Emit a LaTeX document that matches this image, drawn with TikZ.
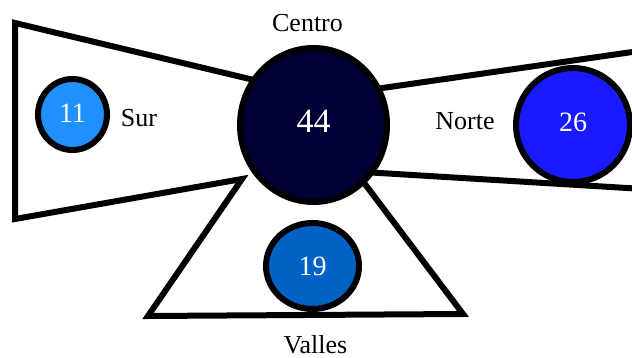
\documentclass[tikz,border=0pt]{standalone}
\usepackage{fontspec}
\setmainfont{Liberation Serif}
\usetikzlibrary{shapes.geometric}
\definecolor{cCentro}{RGB}{0,0,52}
\definecolor{cSur}{RGB}{32,144,255}
\definecolor{cNorte}{RGB}{26,26,255}
\definecolor{cValles}{RGB}{0,98,196}
\begin{document}
\begin{tikzpicture}[x=1pt,y=-1pt,
  blob/.style={ellipse,draw=black,line width=6pt,inner sep=0pt,text=white,font=\fontsize{28}{28}\selectfont},
  lbl/.style={font=\fontsize{26}{26}\selectfont,anchor=base,inner sep=0pt}]
\useasboundingbox (0,0) rectangle (632,358);
\begin{scope}
\clip (0,0) rectangle (632,358);
\draw[line width=6pt,fill=white,line join=miter]
  (15,23) -- (300,91) -- (320,97) -- (660,48) -- (660,190) -- (330,170) -- (340,151)
  -- (463,314) -- (148,316) -- (242,179) -- (15,219) -- cycle;
\end{scope}
\node[blob,fill=cCentro,minimum width=147pt,minimum height=154pt,text depth=7pt,font=\fontsize{34}{34}\selectfont] (centro) at (313.5,125) {44};
\node[blob,fill=cSur,minimum width=69pt,minimum height=71pt,text depth=3pt] (sur) at (72.5,114.5) {11};
\node[blob,fill=cNorte,minimum width=114pt,minimum height=114pt,text depth=6pt] (norte) at (573,125) {26};
\node[blob,fill=cValles,minimum width=93pt,minimum height=86pt] (valles) at (312.5,266) {19};
\node[lbl] (lcentro) at (307.5,32) {Centro};
\node[lbl] (lsur) at (139,127) {Sur};
\node[lbl] (lnorte) at (465,130) {Norte};
\node[lbl,text depth=0pt] (lvalles) at (315.5,353) {Valles};
\end{tikzpicture}
\end{document}
